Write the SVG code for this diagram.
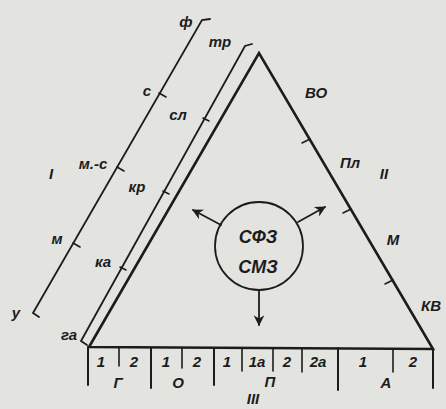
<svg xmlns="http://www.w3.org/2000/svg" width="446" height="409" viewBox="0 0 446 409">
<defs>
<style>
.bg{fill:#e3e3e0}
.ln{stroke:#1c1c1c;fill:none;stroke-linecap:round;stroke-linejoin:miter}
.tri{stroke-width:2.6}
.dv{stroke-width:2}
.sc{stroke-width:1.8}
.tk{stroke-width:1.6}
.t{font-family:"Liberation Sans",Arial,sans-serif;font-style:italic;font-weight:bold;fill:#1c1c1c;font-size:15px;text-anchor:middle}
.s{font-size:15px}
.c{font-size:18px}
</style>
<marker id="ah" viewBox="0 0 10 10" refX="9" refY="5" markerWidth="7" markerHeight="6" orient="auto" markerUnits="strokeWidth">
<path d="M0,0 L10,5 L0,10 L3,5 Z" fill="#1c1c1c"/>
</marker>
</defs>
<rect class="bg" width="446" height="409"/>

<g id="scale-I">
<path class="ln sc" d="M210,19 L202,20 L33,313 L39,317"/>
<path class="ln tk" d="M159,93 L166,97 M117,167 L124,171 M73,243 L80,247"/>
<text class="t" x="186" y="27">ф</text>
<text class="t" x="147" y="96">с</text>
<text class="t" x="93" y="169">м.-с</text>
<text class="t" x="57" y="244">м</text>
<text class="t" x="16" y="318">у</text>
<text class="t" x="51" y="179">I</text>
</g>

<g id="scale-inner">
<path class="ln sc" d="M252,44 L245,46 L81,341 L87,345"/>
<path class="ln tk" d="M203,118 L209,121 M163,191 L169,194 M120,267 L126,270"/>
<text class="t" x="220" y="47">тр</text>
<text class="t" x="178" y="120">сл</text>
<text class="t" x="137" y="192">кр</text>
<text class="t" x="103" y="267">ка</text>
<text class="t" x="69" y="340">га</text>
</g>

<g id="triangle">
<path class="ln tri" d="M89,347 L259,53 L433,349 Z"/>
<path class="ln tk" d="M310,139 L302,143 M351,209 L343,213 M393,280 L385,284"/>
<text class="t" x="316" y="98">ВО</text>
<text class="t" x="350" y="168">Пл</text>
<text class="t" x="384" y="179">II</text>
<text class="t" x="393" y="245">М</text>
<text class="t" x="431" y="311">КВ</text>
</g>

<g id="bottom-scale">
<path class="ln dv" d="M88,347 L88,385 M151,348 L151,388 M214,348 L214,385 M338,348 L338,390 M433,349 L433,388"/>
<path class="ln tk" d="M119,348 L119,366 M182,348 L182,368 M242,348 L242,371 M273,348 L273,371 M302,348 L302,372 M393,349 L393,372"/>
<g class="t s">
<text x="101" y="367">1</text>
<text x="134" y="367">2</text>
<text x="166" y="367">1</text>
<text x="197" y="367">2</text>
<text x="227" y="367">1</text>
<text x="257" y="367">1a</text>
<text x="287" y="367">2</text>
<text x="318" y="367">2a</text>
<text x="363" y="367">1</text>
<text x="413" y="367">2</text>
<text x="118" y="388">Г</text>
<text x="178" y="388">О</text>
<text x="270" y="387">П</text>
<text x="386" y="388">А</text>
<text x="253" y="404">III</text>
</g>
</g>

<g id="center">
<circle class="ln" cx="259" cy="246" r="44" stroke-width="1.8"/>
<text class="t c" x="258" y="243">СФЗ</text>
<text class="t c" x="258" y="273">СМЗ</text>
</g>

<g id="connectors">
<path class="ln" stroke-width="1.8" d="M221,225 L193,210" marker-end="url(#ah)"/>
<path class="ln" stroke-width="1.8" d="M298,222 L325,207" marker-end="url(#ah)"/>
<path class="ln" stroke-width="1.8" d="M259,291 L259,325" marker-end="url(#ah)"/>
</g>
</svg>
